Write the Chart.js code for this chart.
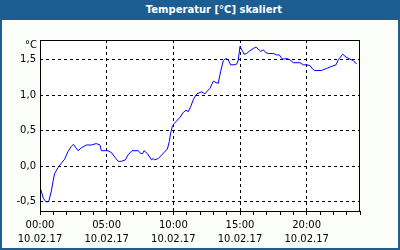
<!DOCTYPE html>
<html>
<head>
<meta charset="utf-8">
<script src="https://cdn.jsdelivr.net/npm/chart.js@4"></script>
<style>
  body { margin: 0; background: #fff; }
  #box { position: relative; width: 400px; height: 250px; background: #fbfdfb; overflow: hidden; }
  #title {
    position: absolute; left: 0; top: 0; width: 400px; height: 20px;
    background: #1d5e92; color: #fff;
    font: bold 10px "DejaVu Sans", sans-serif; line-height: 20px;
    text-indent: 28px; text-align: center;
  }
  #chart { position: absolute; left: 0; top: 20px; }
  .edge { position: absolute; background: #1d5e92; }
</style>
</head>
<body>
<div id="box">
  <div id="title">Temperatur [°C] skaliert</div>
  <canvas id="chart" width="400" height="230"></canvas>
  <div class="edge" style="left:0;top:0;width:2px;height:250px"></div>
  <div class="edge" style="right:0;top:0;width:2px;height:250px"></div>
  <div class="edge" style="left:0;bottom:0;width:400px;height:2px"></div>
</div>
<script>
// hours since 10.02.17 00:00
const hours = [0, 0.25, 0.45, 0.65, 0.85, 0.98, 1.1, 1.35, 1.6, 1.85, 2.1, 2.35, 2.5, 2.85, 3.1, 3.47, 3.85, 4.22, 4.5, 4.6,
  5.1, 5.38, 5.6, 5.87, 6.1, 6.4, 6.6, 6.9, 7.37, 7.55, 7.7, 7.8, 8.05, 8.37, 8.5, 8.6, 8.87, 9.13, 9.37, 9.55,
  9.7, 9.8, 9.92, 10.05, 10.3, 10.5, 10.75, 10.95, 11.12, 11.3, 11.5, 11.75, 12.13, 12.37, 12.5, 12.75, 13.0, 13.2, 13.37, 13.55,
  13.75, 13.95, 14.12, 14.3, 14.55, 14.75, 14.87, 15.0, 15.2, 15.3, 15.5, 15.75, 16.0, 16.2, 16.37, 16.55, 16.75, 16.95, 17.12, 17.5,
  17.75, 17.95, 18.13, 18.25, 18.5, 18.75, 19.0, 19.5, 19.75, 20.0, 20.25, 20.45, 20.6, 21.1, 21.5, 21.9, 22.2, 22.37, 22.7, 22.95,
  23.25, 23.5, 23.75];
const temps = [-0.29, -0.45, -0.5, -0.5, -0.35, -0.21, -0.1, -0.02, 0.045, 0.10, 0.21, 0.28, 0.31, 0.22, 0.26, 0.30, 0.30, 0.32, 0.30, 0.22,
  0.22, 0.19, 0.13, 0.07, 0.07, 0.09, 0.16, 0.22, 0.22, 0.18, 0.18, 0.22, 0.18, 0.09, 0.11, 0.09, 0.11, 0.16, 0.21, 0.24,
  0.35, 0.47, 0.56, 0.60, 0.65, 0.69, 0.76, 0.79, 0.77, 0.84, 0.94, 1.02, 1.05, 1.02, 1.05, 1.10, 1.20, 1.18, 1.17, 1.34,
  1.49, 1.52, 1.50, 1.43, 1.43, 1.44, 1.50, 1.69, 1.62, 1.58, 1.59, 1.63, 1.66, 1.68, 1.65, 1.62, 1.64, 1.60, 1.59, 1.59,
  1.57, 1.57, 1.52, 1.51, 1.52, 1.50, 1.46, 1.46, 1.43, 1.43, 1.42, 1.37, 1.35, 1.35, 1.38, 1.41, 1.43, 1.50, 1.58, 1.54,
  1.51, 1.49, 1.44];
const xTicks = [0, 1, 2, 3, 4, 5, 6, 7, 8, 9, 10, 11, 12, 13, 14, 15, 16, 17, 18, 19, 20, 21, 22, 23, 24];
const xLabelHours = [0, 5, 10, 15, 20];
const yTicks = [-0.5, 0, 0.5, 1.0, 1.5];
const dateLabel = '10.02.17';
const unitLabel = '°C';

const font = { family: '"DejaVu Sans", sans-serif', size: 10, lineHeight: 1.4 };

// black frame round the plot + unit label
const framePlugin = {
    id: 'frame',
    afterDraw(chart) {
        const { ctx, chartArea: a } = chart;
        ctx.save();
        ctx.strokeStyle = '#000';
        ctx.lineWidth = 1;
        ctx.setLineDash([]);
        ctx.strokeRect(Math.round(a.left) + 0.5, Math.round(a.top) + 0.5,
            Math.round(a.right - a.left) - 1, Math.round(a.bottom - a.top));
        ctx.fillStyle = '#000';
        ctx.font = '10px "DejaVu Sans", sans-serif';
        ctx.textAlign = 'right';
        ctx.textBaseline = 'middle';
        ctx.fillText(unitLabel, a.left - 3, a.top + 5);
        ctx.restore();
    }
};

const plotBg = {
    id: 'plotBg',
    beforeDraw(chart) {
        const { ctx, chartArea: a } = chart;
        ctx.save();
        ctx.fillStyle = '#ffffff';
        ctx.fillRect(a.left, a.top, a.right - a.left, a.bottom - a.top);
        ctx.restore();
    }
};

new Chart(document.getElementById('chart'), {
    type: 'line',
    data: {
        datasets: [{
            data: hours.map((h, i) => ({ x: h, y: temps[i] })),
            borderColor: '#0000ff',
            borderWidth: 1,
            pointRadius: 0,
            tension: 0,
            fill: false
        }]
    },
    options: {
        responsive: false,
        devicePixelRatio: 1,
        animation: false,
        layout: { padding: { left: 0, right: 40, top: 20, bottom: 0 } },
        plugins: { legend: { display: false }, tooltip: { enabled: false } },
        scales: {
            x: {
                type: 'linear',
                min: 0,
                max: 24,
                afterBuildTicks: s => { s.ticks = xTicks.map(v => ({ value: v })); },
                afterFit: s => { s.height = 39; },
                grid: {
                    color: c => (xLabelHours.includes(c.tick.value) && c.tick.value > 0) ? '#000' : 'rgba(0,0,0,0)',
                    tickColor: '#000',
                    tickLength: 4,
                    lineWidth: 1
                },
                border: { display: false, dash: [3, 3] },
                ticks: {
                    autoSkip: false,
                    maxRotation: 0,
                    padding: 3,
                    color: '#000',
                    font: font,
                    callback: v => xLabelHours.includes(v)
                        ? [String(v).padStart(2, '0') + ':00', dateLabel] : ''
                }
            },
            y: {
                min: -0.63,
                max: 1.78,
                afterBuildTicks: s => { s.ticks = yTicks.map(v => ({ value: v })); },
                afterFit: s => { s.width = 40; },
                grid: { color: '#000', drawTicks: false, lineWidth: 1 },
                border: { display: false, dash: [3, 3] },
                ticks: {
                    padding: 4,
                    color: '#000',
                    font: font,
                    callback: v => v.toFixed(1).replace('.', ',')
                }
            }
        }
    },
    plugins: [plotBg, framePlugin]
});
</script>
</body>
</html>
